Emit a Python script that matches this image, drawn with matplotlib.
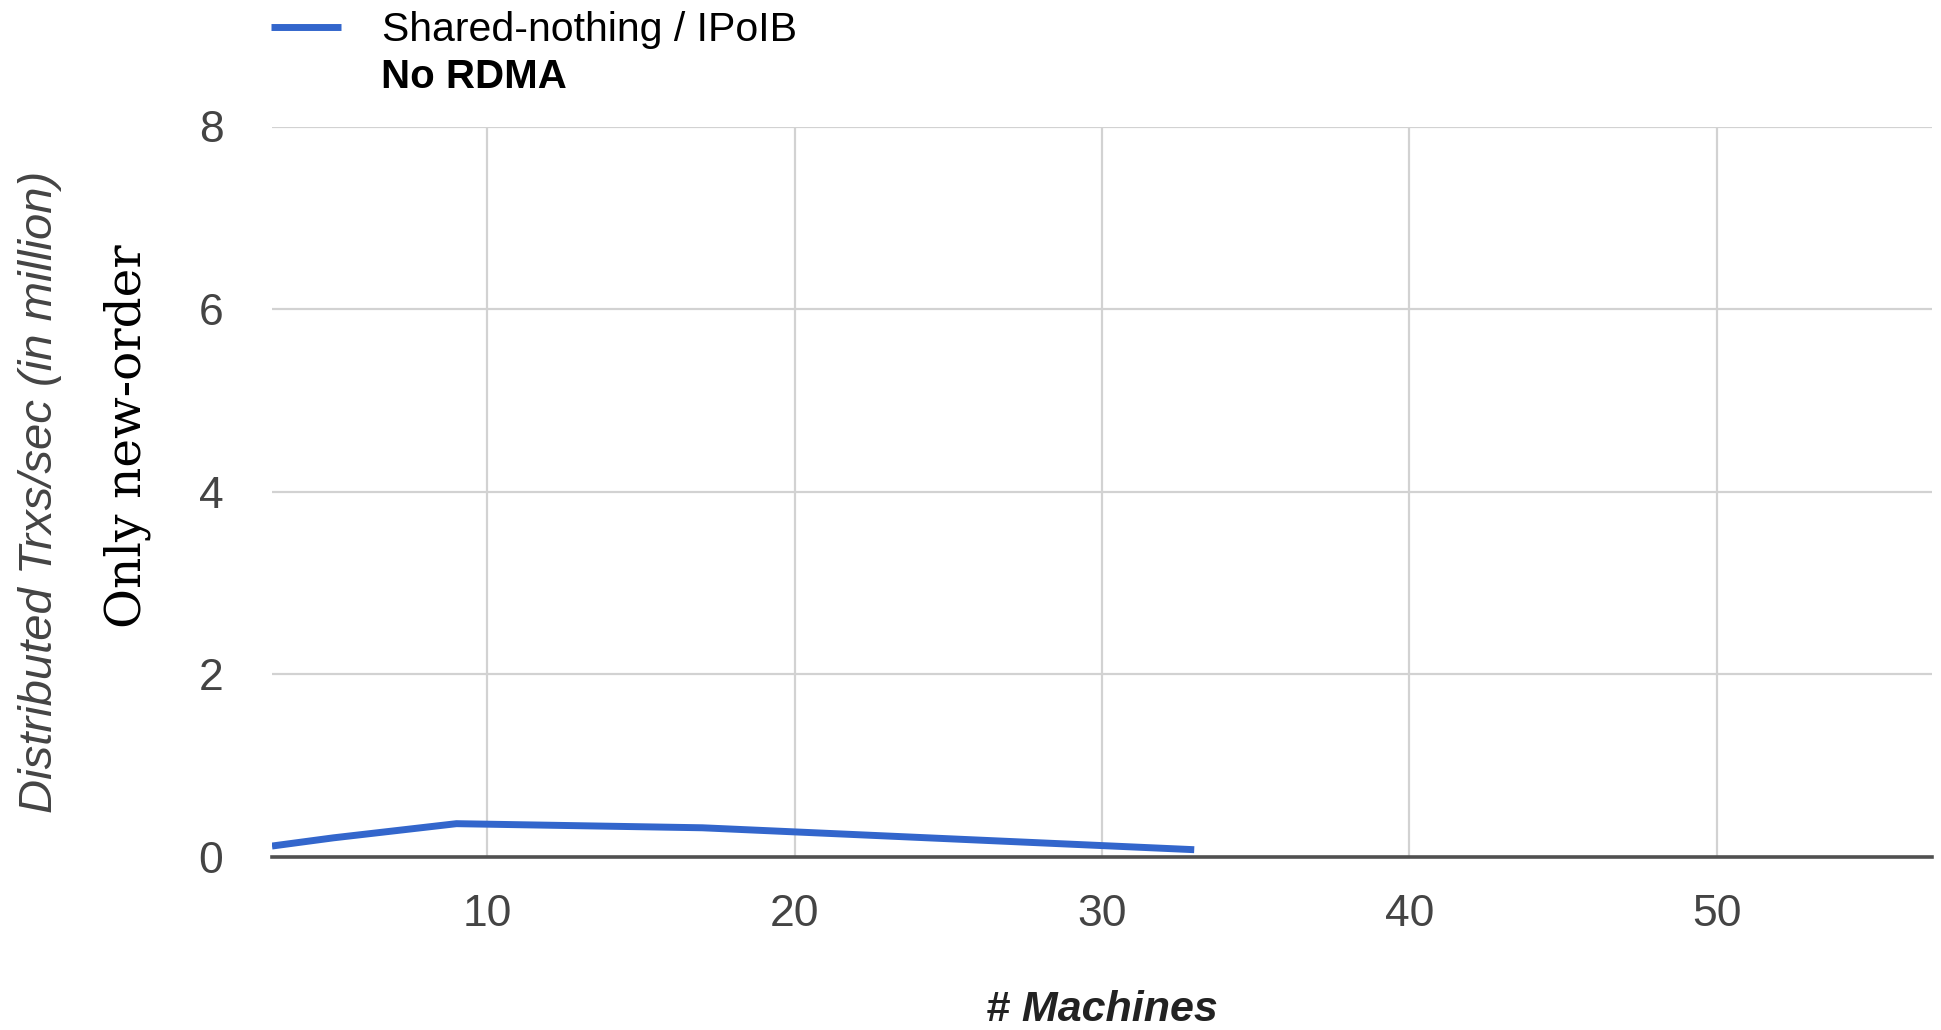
import matplotlib
matplotlib.use("Agg")
import matplotlib.pyplot as plt
from matplotlib.ticker import FixedLocator

# ---- data ----
machines = [3, 5, 9, 17, 25, 33]
trxs_million = [0.12, 0.21, 0.365, 0.32, 0.20, 0.08]
series_label = "Shared-nothing / IPoIB"
x_ticks = [10, 20, 30, 40, 50]
y_ticks = [0, 2, 4, 6, 8]

W, H = 1941, 1030
fig = plt.figure(figsize=(W / 100, H / 100), dpi=100)
fig.patch.set_facecolor("white")

left, right, top, bottom = 272, 1932, 126.5, 857
ax = fig.add_axes([left / W, (H - bottom) / H, (right - left) / W, (bottom - top) / H])
ax.set_facecolor("white")

line, = ax.plot(machines, trxs_million, color="#3366cc", lw=5.0,
                solid_capstyle="butt", solid_joinstyle="miter", label=series_label, zorder=3)

ax.set_xlim(3, 57)
ax.set_ylim(0, 8)
ax.xaxis.set_major_locator(FixedLocator(x_ticks))
ax.yaxis.set_major_locator(FixedLocator(y_ticks))
ax.grid(True, color="#d2d2d2", lw=1.6, zorder=0)
for s in ["top", "right", "left"]:
    ax.spines[s].set_visible(False)
ax.spines["bottom"].set_color("#505050")
ax.spines["bottom"].set_linewidth(2.6)
ax.spines["bottom"].set_zorder(2)

tick_font = "Liberation Sans"
ax.tick_params(axis="both", length=0, labelcolor="#444444", labelsize=32)
ax.tick_params(axis="x", pad=27)
ax.tick_params(axis="y", pad=35)
for lab in ax.get_xticklabels() + ax.get_yticklabels():
    lab.set_fontfamily(tick_font)

# legend
leg = ax.legend(handles=[line], loc="center left", bbox_to_anchor=((left - 21) / W, 1 - 30 / H),
                bbox_transform=fig.transFigure, frameon=False, borderpad=0,
                handlelength=1.7, handletextpad=1.0,
                prop={"family": "Liberation Sans", "size": 29.5})
leg.get_lines()[0].set_linewidth(5.0)
fig.text(381 / W, 1 - 88.5 / H, "No RDMA", fontsize=29, fontweight="bold",
         family="Liberation Sans", color="black", ha="left", va="baseline")

# axis titles
fig.text(40 / W, 1 - 492 / H, "Distributed Trxs/sec (in million)", rotation=90,
         fontsize=34, fontstyle="italic", family="Liberation Sans", color="#444444",
         ha="center", va="center")
fig.text(127 / W, 1 - 436 / H, "Only new-order", rotation=90,
         fontsize=35, family="DejaVu Serif", color="black", ha="center", va="center")
fig.text(1102 / W, 1 - 1010 / H, "# Machines", fontsize=31, fontweight="bold",
         fontstyle="italic", family="Liberation Sans", color="#222222",
         ha="center", va="center")

fig.savefig("out.png", dpi=100, facecolor="white")
